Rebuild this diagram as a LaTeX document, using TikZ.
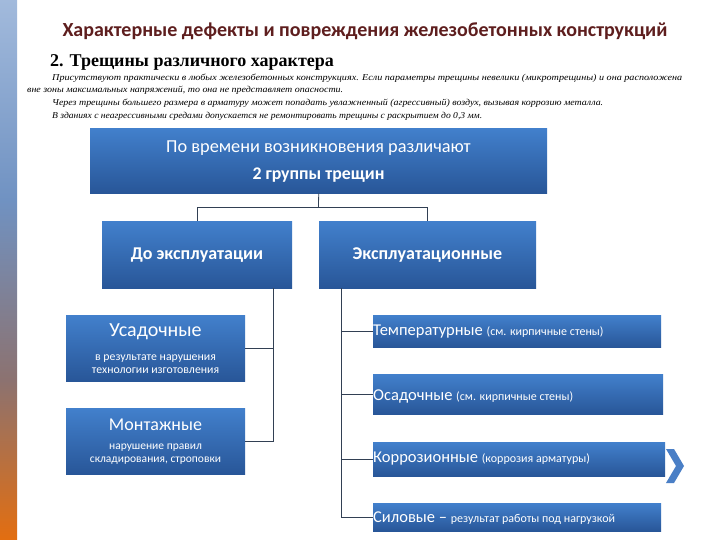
\documentclass[tikz,border=0pt]{standalone}
\usepackage{fontspec}
\setmainfont{Carlito}
\newfontfamily\serf{Liberation Serif}
\definecolor{boxtop}{RGB}{66,128,204}
\definecolor{boxbot}{RGB}{40,86,152}
\definecolor{titlered}{RGB}{94,30,30}
\definecolor{linec}{RGB}{50,64,84}
\definecolor{chev}{RGB}{74,127,198}
\definecolor{barA}{RGB}{162,186,220}
\definecolor{barB}{RGB}{112,146,194}
\definecolor{barC}{RGB}{140,114,112}
\definecolor{barD}{RGB}{227,110,16}
\pgfdeclareverticalshading{leftbar}{100bp}{color(0bp)=(barD); color(25bp)=(barD); color(39.8bp)=(barC); color(56.5bp)=(barB); color(75bp)=(barA); color(100bp)=(barA)}
\newcommand\fitw[2]{\resizebox{#1}{\height}{#2}}
\newcommand\fsz[1]{\fontsize{#1}{#1}\selectfont}
\begin{document}
\begin{tikzpicture}[x=1pt,y=-1pt,
  bx/.style={top color=boxtop, bottom color=boxbot, draw=none, inner sep=0pt, anchor=north west, rectangle},
  wt/.style={text=white, inner sep=0pt},
  para/.style={anchor=west, inner sep=0pt, font=\serf\itshape\fsz{9}},
  conn/.style={draw=linec, line width=0.8pt}]
\useasboundingbox (0,0) rectangle (720,540);
\fill[white] (0,0) rectangle (720,540);
\shade[shading=leftbar] (0,0) rectangle (17,540);

% titles
\node[text=titlered, inner sep=0pt, font=\bfseries\fsz{20}] (title) at (365,31) {Характерные дефекты и повреждения железобетонных конструкций};
\node[anchor=west, inner sep=0pt, font=\serf\bfseries\fsz{18}] (head) at (50,62) {2. Трещины различного характера};
\node[para] (p1) at (52,78) {\fitw{630pt}{Присутствуют практически в любых железобетонных конструкциях. Если параметры трещины невелики  (микротрещины) и она расположена}};
\node[para] (p2) at (27,90) {\fitw{316pt}{вне зоны максимальных напряжений, то она не представляет опасности.}};
\node[para] (p3) at (52,103) {\fitw{551pt}{Через  трещины большего размера в арматуру может попадать увлажненный (агрессивный) воздух, вызывая коррозию металла.}};
\node[para] (p4) at (52,116) {\fitw{430pt}{В зданиях с неагрессивными средами допускается не ремонтировать трещины с раскрытием до 0,3 мм.}};

% boxes
\node[bx, minimum width=457pt, minimum height=65pt] (top) at (90,128) {};
\node[bx, minimum width=190pt, minimum height=67pt] (pre) at (102,221) {};
\node[bx, minimum width=217pt, minimum height=67pt] (exp) at (319,221) {};
\node[bx, minimum width=179pt, minimum height=66pt] (usad) at (66,315) {};
\node[bx, minimum width=179pt, minimum height=66pt] (mont) at (66,408) {};
\node[bx, minimum width=288pt, minimum height=32pt] (temp) at (373,315) {};
\node[bx, minimum width=290pt, minimum height=40pt] (osad) at (373,374) {};
\node[bx, minimum width=292pt, minimum height=34pt] (korr) at (373,442) {};
\node[bx, minimum width=288pt, minimum height=28pt] (sil) at (373,503) {};

% box texts
\node[wt, font=\fsz{18.3}] (t1a) at (318.5,148) {По времени возникновения  различают};
\node[wt, font=\bfseries\fsz{17.8}] (t1b) at (318.5,175) {2 группы трещин};
\node[wt, font=\bfseries\fsz{18}] (t2) at (197,255) {До эксплуатации};
\node[wt, font=\bfseries\fsz{18}] (t3) at (427.5,255) {Эксплуатационные};
\node[wt, font=\fsz{20}] (t4a) at (155.5,332) {Усадочные};
\node[wt, font=\fsz{11.8}, align=center] (t4b) at (155.5,364) {в результате нарушения\\[1pt]технологии изготовления};
\node[wt, font=\fsz{18}] (t5a) at (155.5,425) {Монтажные};
\node[wt, font=\fsz{11.5}, align=center] (t5b) at (155.5,454) {нарушение правил\\[1pt]складирования, строповки};
\node[wt, anchor=west] (t6) at (373,332) {\fsz{16.5}Температурные \fsz{12}(см. кирпичные стены)};
\node[wt, anchor=west] (t7) at (373,396) {\fsz{16.5}Осадочные \fsz{12}(см. кирпичные стены)};
\node[wt, anchor=west] (t8) at (373,459) {\fsz{16.5}Коррозионные \fsz{12}(коррозия арматуры)};
\node[wt, anchor=west] (t9) at (373,518) {\fsz{16.5}Силовые – \fsz{12}результат работы под нагрузкой};

% connectors
\coordinate (j) at (318.5,207);
\coordinate (ls) at (273,0);
\coordinate (rs) at (341,0);
\draw[conn] (top.south) -- (j);
\draw[conn] (pre.north) -- (pre.north |- j) -- (exp.north |- j) -- (exp.north);
\draw[conn] (ls |- pre.south) -- (ls |- mont.east) -- (mont.east);
\draw[conn] (usad.east) -- (ls |- usad.east);
\draw[conn] (rs |- exp.south) -- (rs |- sil.west) -- (sil.west);
\draw[conn] (rs |- temp.west) -- (temp.west);
\draw[conn] (rs |- osad.west) -- (osad.west);
\draw[conn] (rs |- korr.west) -- (korr.west);

% chevron
\fill[chev] (666,449) -- (674,449) -- (684,466) -- (674,483) -- (666,483) -- (676,466) -- cycle;
\end{tikzpicture}
\end{document}
